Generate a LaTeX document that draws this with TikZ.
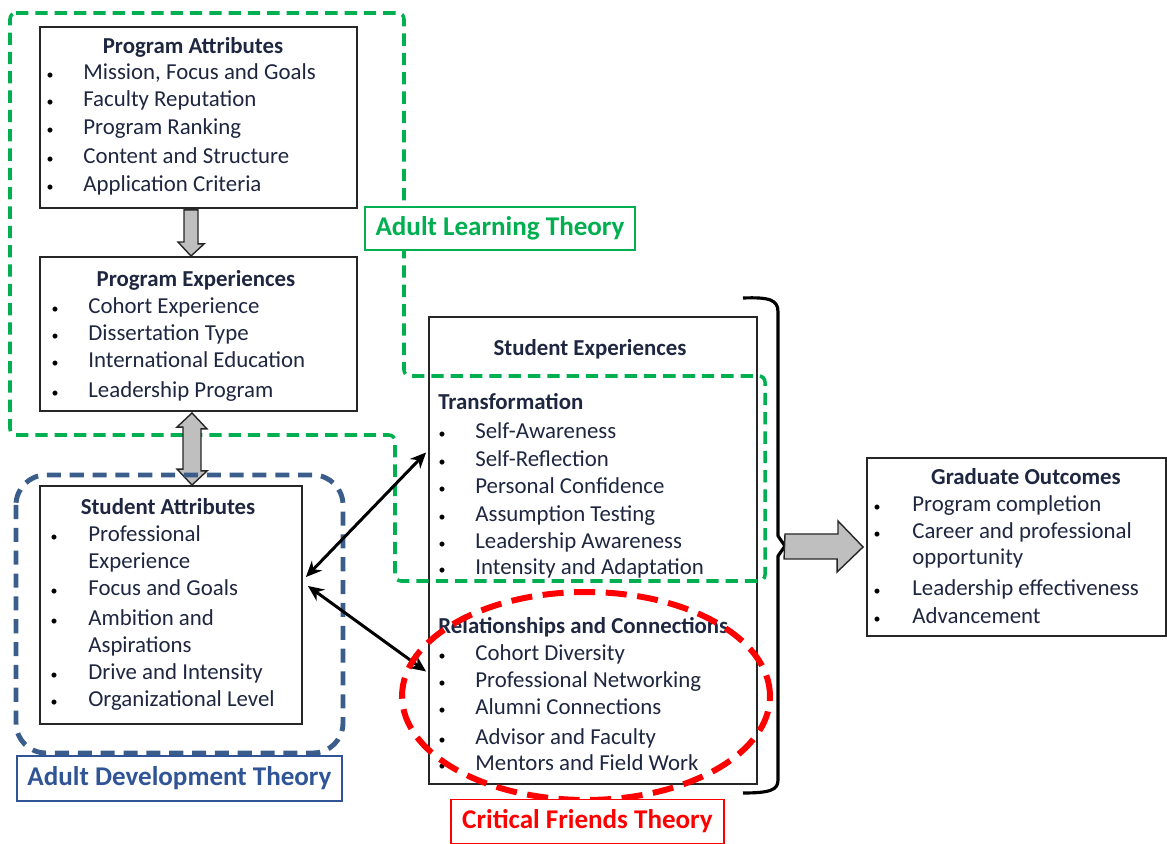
\documentclass[tikz,border=0pt]{standalone}
\usepackage{fontspec}
\setmainfont{Carlito}
\usetikzlibrary{calc,arrows.meta}
\definecolor{txt}{HTML}{1E2640}
\definecolor{lgreen}{HTML}{00B050}
\definecolor{dblue}{HTML}{3A5D8C}
\definecolor{lblue}{HTML}{2F5597}
\definecolor{bgray}{HTML}{BFBFBF}
\definecolor{boxline}{HTML}{262626}

\begin{document}
\begin{tikzpicture}[x=0.02cm,y=-0.02cm,
  box/.style={draw=boxline, line width=1.1pt, inner sep=0pt},
  head/.style={font=\fontsize{13}{15}\selectfont\bfseries, text=txt, anchor=mid, inner sep=0pt, yshift=-0.05cm},
  sub/.style={font=\fontsize{13}{15}\selectfont\bfseries, text=txt, anchor=mid west, inner sep=0pt, yshift=-0.05cm},
  item/.style={font=\fontsize{13}{15}\selectfont, text=txt, anchor=mid west, inner sep=0pt, yshift=-0.05cm},
  dot/.style={font=\fontsize{8}{10}\selectfont, text=black, anchor=mid, inner sep=0pt, yshift=-0.05cm},
  theory/.style={fill=white, line width=0.8pt, inner sep=0pt, font=\fontsize{15.4}{17}\selectfont\bfseries},
  garrow/.style={fill=bgray, draw=boxline, line width=0.8pt, line join=miter},
  barrow/.style={line width=1.7pt, {Stealth[length=9pt,width=8pt]}-{Stealth[length=9pt,width=8pt]}},
]
\useasboundingbox (0,0) rectangle (1167,844);

% ---- boxes ----
\node[box, minimum width=6.34cm, minimum height=3.62cm] (pa) at (198.5,117.5) {};
\node[box, minimum width=6.34cm, minimum height=3.08cm] (pe) at (198.5,334) {};
\node[box, minimum width=5.24cm, minimum height=4.76cm] (sa) at (171,605) {};
\node[box, minimum width=6.56cm, minimum height=9.34cm] (se) at (593,550.5) {};
\node[box, minimum width=5.98cm, minimum height=3.56cm] (go) at (1016.5,547) {};

% ---- Program Attributes ----
\node[head] (pah) at (193,47) {Program Attributes};
\foreach \y/\t [count=\i] in {73/{Mission, Focus and Goals},100/Faculty Reputation,128/Program Ranking,157/Content and Structure,185/Application Criteria}{
  \node[dot] (pad\i) at (50,\y) {•};
  \node[item] (pai\i) at (83,\y) {\t};
}

% ---- Program Experiences ----
\node[head] (peh) at (196,280) {Program Experiences};
\foreach \y/\t [count=\i] in {307/Cohort Experience,334/Dissertation Type,361/International Education,391/Leadership Program}{
  \node[dot] (ped\i) at (55,\y) {•};
  \node[item] (pei\i) at (88,\y) {\t};
}

% ---- Student Attributes ----
\node[head] (sah) at (168,508) {Student Attributes};
\foreach \y in {535,589,619,673,700}{
  \node[dot] (sad\y) at (54,\y) {•};
}
\foreach \y/\t [count=\i] in {535/Professional,562/Experience,589/Focus and Goals,619/Ambition and,646/Aspirations,673/Drive and Intensity,700/Organizational Level}{
  \node[item] (sai\i) at (88,\y) {\t};
}

% ---- Student Experiences ----
\node[head] (seh) at (590,349) {Student Experiences};
\node[sub] (set) at (438,403) {Transformation};
\foreach \y/\t [count=\i] in {432/Self-Awareness,460/Self-Reflection,487/Personal Confidence,515/Assumption Testing,542/Leadership Awareness,568/Intensity and Adaptation}{
  \node[dot] (std\i) at (442,\y) {•};
  \node[item] (sti\i) at (475,\y) {\t};
}
\node[sub] (ser) at (438,627) {Relationships and Connections};
\foreach \y/\t [count=\i] in {654/Cohort Diversity,681/Professional Networking,708/Alumni Connections,738/Advisor and Faculty,764/Mentors and Field Work}{
  \node[dot] (srd\i) at (442,\y) {•};
  \node[item] (sri\i) at (475,\y) {\t};
}

% ---- Graduate Outcomes ----
\node[head] (goh) at (1026,478) {Graduate Outcomes};
\foreach \y in {505,532,589,617}{
  \node[dot] (god\y) at (877,\y) {•};
}
\foreach \y/\t [count=\i] in {505/Program completion,532/Career and professional,558/opportunity,589/Leadership effectiveness,617/Advancement}{
  \node[item] (goi\i) at (912,\y) {\t};
}

% ---- Adult Learning Theory region ----
\draw[lgreen, line width=2pt, dash pattern=on 7pt off 4pt, rounded corners=0.12cm]
  (10,13) -- (404,13) -- (404,376) -- (765,376) -- (765,581) -- (395,581)
  -- (395,435) -- (10,435) -- cycle;

% ---- block arrows between program boxes ----
\draw[garrow] ($(pa.south)+(-7.5,1)$) ++(-7,0) -- ++(14,0) -- ++(0,34) -- ++(6,0)
  -- ($(pe.north)+(-7.5,0)$) -- ++(-13,-14) -- ++(6,0) -- ++(0,-34) -- cycle;
\draw[garrow] ($(pe.south)+(-6.5,1)$) -- ++(15,16) -- ++(-6,0) -- ++(0,42) -- ++(6,0)
  -- ($(sa.north)+(21,0)$) -- ++(-15,-16) -- ++(6,0) -- ++(0,-42) -- ++(-6,0) -- cycle;

% ---- Adult Development Theory region ----
\draw[dblue, line width=2.8pt, dash pattern=on 8pt off 5pt, rounded corners=0.6cm]
  (16,475) rectangle (343,753);

% ---- links between student attributes and experiences ----
\draw[barrow] ($(sa.east)+(3,-28)$) -- ($(se.west)+(-2,-98)$);
\draw[barrow] ($(sa.east)+(5,-19)$) -- ($(se.west)+(-2,121)$);

% ---- Critical Friends Theory region ----
\draw[red, line width=3.4pt, dash pattern=on 12pt off 6pt]
  (586,696) ellipse [x radius=3.68cm, y radius=2.08cm];

% ---- bracket and outcome arrow ----
\coordinate (brk) at (785,546);
\draw[line width=1.8pt, line join=round]
  (743,298) .. controls (770,297) and (778,300) .. (778,312) -- (778,536)
  -- (brk) -- (778,556) -- (778,780) .. controls (778,790) and (770,793) .. (743,793);
\draw[garrow] (brk) ++(0,-12) -- ++(53,0) -- ++(0,-13) -- ($(go.west)+(-3,0)$)
  -- ++(-26,25) -- ++(0,-13) -- ++(-53,0) -- cycle;

% ---- theory labels ----
\node[theory, draw=lgreen, text=lgreen, minimum width=5.4cm, minimum height=0.86cm] (alt) at (500,228.5) {Adult Learning Theory};
\node[theory, draw=lblue, text=lblue, minimum width=6.5cm, minimum height=0.9cm] (adt) at (179.5,778.5) {Adult Development Theory};
\node[theory, draw=red, text=red, minimum width=5.46cm, minimum height=0.88cm] (cft) at (587.5,821.5) {Critical Friends Theory};
\end{tikzpicture}
\end{document}
